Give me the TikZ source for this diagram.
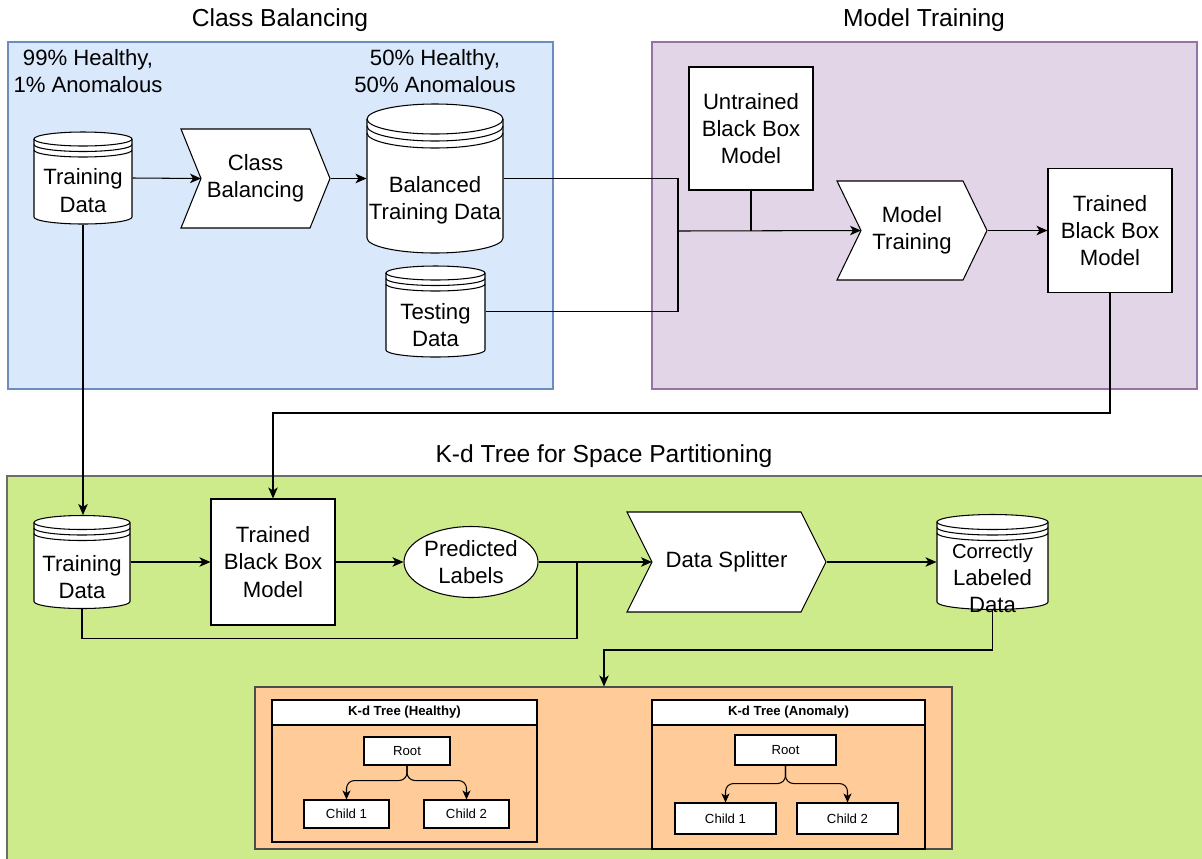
\documentclass[tikz,border=0pt]{standalone}
\usepackage{fontspec}
\setmainfont{Liberation Sans}
\usepackage{tikz}
\usetikzlibrary{arrows.meta,positioning,calc,shapes.geometric}

\definecolor{cbfill}{HTML}{DAE8FC}
\definecolor{cbline}{HTML}{6C8EBF}
\definecolor{mtfill}{HTML}{E1D5E7}
\definecolor{mtline}{HTML}{9673A6}
\definecolor{kdfill}{HTML}{CDEB8B}
\definecolor{kdline}{HTML}{6D6D6D}
\definecolor{trfill}{HTML}{FFCC99}
\definecolor{trline}{HTML}{4D4D4D}

\tikzset{
  txt/.style={align=center, font=\fontsize{12.6}{15.5}\selectfont},
  box/.style={draw, fill=white, txt, inner sep=0pt},
  arr/.style={-{Stealth[length=2.2mm,width=1.9mm,inset=0.6mm]}},
  arrsmall/.style={-{Stealth[length=1.8mm,width=1.6mm,inset=0.5mm]}},
  region/.style={draw, inner sep=0pt},
  title/.style={font=\fontsize{14}{16}\selectfont},
  panel/.style={draw, inner sep=0pt},
  leaf/.style={draw, fill=white, font=\fontsize{7.5}{9}\selectfont, inner sep=0pt},
  phead/.style={draw, fill=white, font=\bfseries\fontsize{7.5}{9}\selectfont, inner sep=0pt, minimum height=5mm},
}

% data store: name, x, y, width, height, ry, gap, text shift (mm), text
\newcommand{\datastore}[9]{
  \filldraw[fill=white] (#2-#4/2,#3-#5/2+#6) -- (#2-#4/2,#3+#5/2-#6)
    arc[start angle=180,end angle=0,x radius=#4/2,y radius=#6]
    -- (#2+#4/2,#3-#5/2+#6)
    arc[start angle=0,end angle=-180,x radius=#4/2,y radius=#6] -- cycle;
  \draw (#2-#4/2,#3-#5/2+#6) arc[start angle=180,end angle=0,x radius=#4/2,y radius=#6];
  \draw (#2-#4/2,#3-#5/2+#6+#7) arc[start angle=180,end angle=0,x radius=#4/2,y radius=#6];
  \draw (#2-#4/2,#3-#5/2+#6+2*#7) arc[start angle=180,end angle=0,x radius=#4/2,y radius=#6];
  \node[inner sep=0pt, minimum width=#4*0.2mm, minimum height=#5*0.2mm,
    label={[txt,yshift=-#8mm]center:#9}] (#1) at (#2,#3) {};
}

% process step: name, x, y, width, height, notch depth, text
\newcommand{\procstep}[7]{
  \filldraw[fill=white] (#2-#4/2,#3-#5/2) -- (#2+#4/2-#6,#3-#5/2) -- (#2+#4/2,#3)
    -- (#2+#4/2-#6,#3+#5/2) -- (#2-#4/2,#3+#5/2) -- (#2-#4/2+#6,#3) -- cycle;
  \coordinate (#1-in) at (#2-#4/2+#6,#3);
  \node[txt, inner sep=0pt, minimum width=#4*0.2mm, minimum height=#5*0.2mm] (#1) at (#2,#3) {#7};
}

\begin{document}
\begin{tikzpicture}[x=0.2mm, y=-0.2mm, line width=0.6pt]
  \useasboundingbox (0,0) rectangle (1202,858);

  % regions
  \node[region, fill=cbfill, draw=cbline, minimum width=109mm, minimum height=69.4mm] (cbal) at (280.5,215.5) {};
  \node[region, fill=mtfill, draw=mtline, minimum width=109mm, minimum height=69.4mm] (mtrain) at (924.5,215.5) {};
  \node[region, fill=kdfill, draw=kdline, minimum width=241mm, minimum height=78mm] (kdpart) at (609.5,671) {};
  \node[region, fill=trfill, draw=trline, minimum width=139.4mm, minimum height=32.4mm] (kd) at (603.5,768) {};

  \node[title] (cbalt) at (280,20) {Class Balancing};
  \node[title] (mtraint) at (924,20) {Model Training};
  \node[title] (kdpartt) at (604,456) {K-d Tree for Space Partitioning};

  % class balancing
  \node[txt] (pct1) at (88,71) {99\% Healthy,\\1\% Anomalous};
  \node[txt] (pct2) at (435,71) {50\% Healthy,\\50\% Anomalous};
  \datastore{td1}{83}{178}{98}{92}{7}{5.5}{2.5}{Training\\Data}
  \procstep{cb}{255.5}{178.5}{149}{99}{20}{Class\\Balancing}
  \datastore{bal}{435}{178.5}{136}{149}{15}{7}{4.4}{Balanced\\Training Data}
  \datastore{test}{435.5}{311.5}{99}{91}{7}{5.5}{2.7}{Testing\\Data}

  % model training
  \node[box, minimum width=24.8mm, minimum height=24.6mm] (untr) at (751,128.5) {Untrained\\Black Box\\Model};
  \procstep{mt}{912}{230.5}{150}{99}{24}{Model\\Training}
  \node[box, minimum width=24.8mm, minimum height=24.8mm] (tbb1) at (1110,230.5) {Trained\\Black Box\\Model};

  % space partitioning
  \datastore{td2}{82}{562}{96}{93}{7}{5.5}{3}{Training\\Data}
  \node[box, minimum width=24.8mm, minimum height=25.2mm] (tbb2) at (273,562) {Trained\\Black Box\\Model};
  \node[draw, ellipse, fill=white, txt, inner sep=0pt, minimum width=26.8mm, minimum height=14.2mm] (pl) at (471,562) {Predicted\\Labels};
  \procstep{ds}{726.5}{562}{199}{100}{25}{Data Splitter}
  \datastore{cld}{992.5}{562}{111}{95}{7.5}{5.5}{3.3}{\fontsize{11.5}{13.5}\selectfont Correctly\\Labeled\\Data}

  % trees
  \node[panel, minimum width=53mm, minimum height=28.4mm] (kd1) at (404.5,771) {};
  \node[phead, minimum width=53mm, anchor=north] (kd1h) at (kd1.north) {K-d Tree (Healthy)};
  \node[leaf, minimum width=17.2mm, minimum height=5.6mm] (r1) at (407,751) {Root};
  \node[leaf, minimum width=17mm, minimum height=5.6mm] (c11) at (346.5,814) {Child 1};
  \node[leaf, minimum width=17mm, minimum height=5.6mm] (c12) at (466.5,814) {Child 2};
  \draw[arrsmall, rounded corners=1.6mm] (r1.south) -- ++(0,15) -| (c11.north);
  \draw[arrsmall, rounded corners=1.6mm] (r1.south) -- ++(0,15) -| (c12.north);

  \node[panel, minimum width=54.6mm, minimum height=29.8mm] (kd2) at (788.5,774.5) {};
  \node[phead, minimum width=54.6mm, anchor=north] (kd2h) at (kd2.north) {K-d Tree (Anomaly)};
  \node[leaf, minimum width=20.2mm, minimum height=6mm] (r2) at (785.5,750) {Root};
  \node[leaf, minimum width=20.2mm, minimum height=6.2mm] (c21) at (725.5,818.5) {Child 1};
  \node[leaf, minimum width=20.2mm, minimum height=6.2mm] (c22) at (847.5,818.5) {Child 2};
  \draw[arrsmall, rounded corners=1.6mm] (r2.south) -- ++(0,18) -| (c21.north);
  \draw[arrsmall, rounded corners=1.6mm] (r2.south) -- ++(0,18) -| (c22.north);

  % connectors
  \draw[arr] (td1.east) -- (cb-in);
  \draw[arr] (cb.east) -- (bal.west);
  \coordinate (jn1) at (678,231);
  \draw (bal.east) -| (jn1);
  \draw (test.east) -| (jn1);
  \draw (untr.south) -- (untr.south |- jn1);
  \draw[arr] (jn1) -- (mt-in);
  \draw[arr] (mt.east) -- (tbb1.west);
  \coordinate (bend1) at (0,413);
  \draw[arr] (tbb1.south) -- (tbb1.south |- bend1) -- (tbb2.north |- bend1) -- (tbb2.north);
  \draw[arr] (td1.south) -- (td1.south |- td2.north);
  \draw[arr] (td2.east) -- (tbb2.west);
  \draw[arr] (tbb2.east) -- (pl.west);
  \draw[arr] (pl.east) -- (ds-in);
  \coordinate (jn2) at (577,562);
  \draw (td2.south) -- ++(0,29) -| (jn2);
  \draw[arr] (ds.east) -- (cld.west);
  \coordinate (drop) at (604,650);
  \draw[arr] (cld.south) |- (drop) -- (drop |- kd.north);
\end{tikzpicture}
\end{document}
